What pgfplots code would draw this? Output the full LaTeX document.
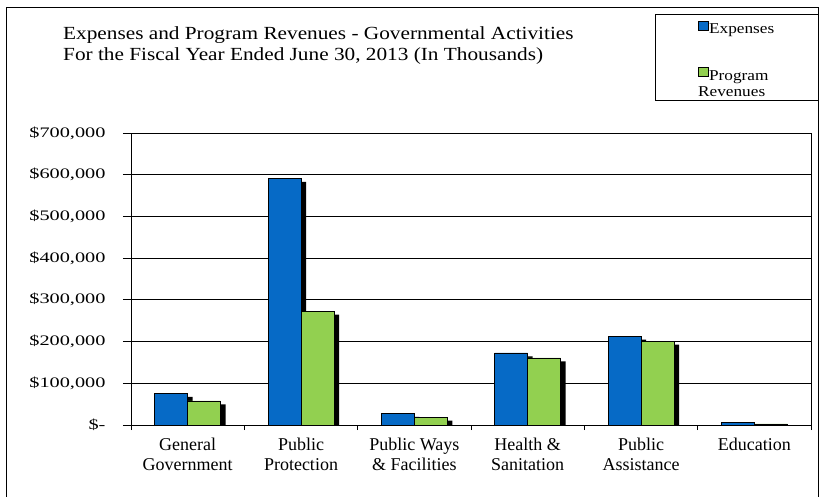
\documentclass[border=0pt]{standalone}
\usepackage{fontspec}
\setmainfont{Liberation Serif}
\newfontfamily\titlefont{Liberation Serif}[FakeStretch=1.15]
\newfontfamily\tickfont{Liberation Serif}[FakeStretch=1.4]
\usepackage{pgfplots}
\pgfplotsset{compat=1.18}
\definecolor{expblue}{HTML}{066AC6}
\definecolor{revgreen}{HTML}{92D050}
\pgfplotsset{sqleg/.style={legend image code/.code={\draw[draw=black,line width=0.5bp,fill=#1] (0bp,-1bp) rectangle (10bp,8bp);}}}
\begin{document}
\begin{tikzpicture}
\useasboundingbox (0bp,0bp) rectangle (820bp,-497bp);
\draw[line width=1bp] (6.5bp,-497bp) -- (6.5bp,-7bp) -- (818.5bp,-7bp) -- (818.5bp,-497bp);
\draw[line width=0.8bp] (655bp,-14bp) rectangle (818.5bp,-100bp);
\node[anchor=base west, inner sep=0, font=\titlefont\fontsize{18.5bp}{21bp}\selectfont] at (63bp,-39bp) {Expenses and Program Revenues - Governmental Activities};
\node[anchor=base west, inner sep=0, font=\titlefont\fontsize{18.5bp}{21bp}\selectfont] at (63bp,-60bp) {For the Fiscal Year Ended June 30, 2013 (In Thousands)};
\begin{axis}[
  at={(131bp,-425bp)}, anchor=south west,
  scale only axis, width=680bp, height=292bp,
  xmin=-0.5, xmax=5.5, ymin=0, ymax=700000,
  ybar=0pt, bar width=33bp,
  ytick={0,100000,...,700000},
  yticklabels={{\$-},{\$100,000},{\$200,000},{\$300,000},{\$400,000},{\$500,000},{\$600,000},{\$700,000}},
  scaled y ticks=false,
  ymajorgrids, major grid style={black, line width=0.8bp},
  axis line style={black, line width=0.8bp},
  tick align=outside, ytick pos=left, xtick pos=bottom,
  major tick length=8bp, minor tick length=5bp,
  tick style={black, line width=0.8bp},
  xtick={0,...,5},
  every major x tick/.append style={draw=none},
  minor xtick={-0.5,0.5,...,5.5},
  xticklabels={{General\\Government},{Public\\Protection},{Public Ways\\\& Facilities},{Health \&\\Sanitation},{Public\\Assistance},{Education}},
  xticklabel style={align=center, inner sep=0pt, yshift=-5bp, font=\rmfamily\fontsize{18bp}{19.5bp}\selectfont},
  yticklabel style={xshift=-14bp, font=\tickfont\fontsize{14.5bp}{16bp}\selectfont},
  legend style={at={(0.8904,1.3836)}, anchor=north, draw=none, fill=none,
    inner sep=0pt, row sep=31bp,
    nodes={inner sep=1bp, line width=0.5bp}, font=\titlefont\fontsize{15bp}{16.5bp}\selectfont},
  legend cell align=left,
]
\addlegendimage{sqleg=expblue}
\addlegendentry{Expenses}
\addlegendimage{sqleg=revgreen}
\addlegendentry{\begin{tabular}[t]{@{}l@{}}Program\\[0bp]\hspace{-11bp}Revenues\end{tabular}}
\addplot[forget plot, bar shift=-16.5bp, fill=expblue, draw=black, line width=0.5bp,
  preaction={fill=black, draw=none, transform canvas={xshift=5bp,yshift=-3.5bp}}]
  coordinates {(0,76000) (1,591000) (2,28000) (3,173000) (4,213000) (5,6500)};
\addplot[forget plot, bar shift=16.5bp, fill=revgreen, draw=black, line width=0.5bp,
  preaction={fill=black, draw=none, transform canvas={xshift=5bp,yshift=-3.5bp}}]
  coordinates {(0,58000) (1,273000) (2,19000) (3,161000) (4,201000) (5,2500)};
\end{axis}
\end{tikzpicture}
\end{document}
